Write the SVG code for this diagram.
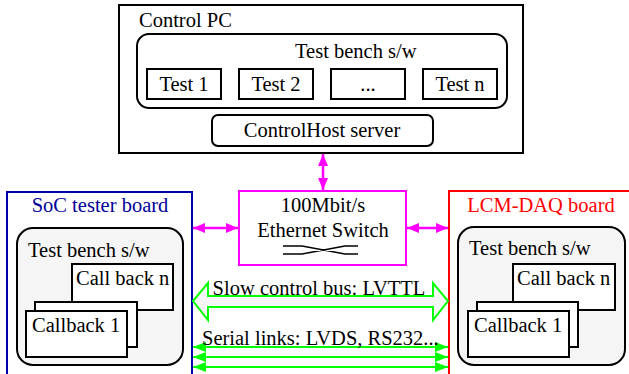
<svg xmlns="http://www.w3.org/2000/svg" width="629" height="374" viewBox="0 0 629 374">
<defs>
<style>
text{font-family:"Liberation Serif","Times New Roman",serif;font-size:20.5px;fill:#000}
.box{fill:#fff;stroke:#000;stroke-width:2}
.rbox{fill:#fff;stroke:#000;stroke-width:2}
.gbox{fill:#f5f5f5;stroke:#000;stroke-width:2}
.mag{stroke:#ff00ff;stroke-width:2.5;fill:none}
.grn{stroke:#00ff00;stroke-width:2;fill:none}
.mid{text-anchor:middle}
</style>
<marker id="mh" viewBox="0 0 12 10" refX="12" refY="5" markerWidth="12" markerHeight="10" markerUnits="userSpaceOnUse" orient="auto-start-reverse"><path d="M0,0 L12,5 L0,10 Z" fill="#ff00ff"/></marker>
<marker id="gh" viewBox="0 0 13 10" refX="13" refY="5" markerWidth="13" markerHeight="10" markerUnits="userSpaceOnUse" orient="auto-start-reverse"><path d="M0,0 L13,5 L0,10 Z" fill="#00ff00"/></marker>
</defs>
<rect width="629" height="374" fill="#fff"/>

<g id="control-pc">
<rect x="119" y="5" width="404" height="148" class="box"/>
<text x="139" y="27">Control PC</text>
<rect x="137" y="34" width="370" height="74" rx="12" class="rbox"/>
<text x="295" y="58">Test bench s/w</text>
<g id="test1"><rect x="147" y="69" width="74" height="30" class="box"/><text x="184" y="91" class="mid">Test 1</text></g>
<g id="test2"><rect x="239" y="69" width="74" height="30" class="box"/><text x="276" y="91" class="mid">Test 2</text></g>
<g id="test-dots"><rect x="331" y="69" width="74" height="30" class="box"/><text x="368" y="91" class="mid">...</text></g>
<g id="testn"><rect x="423" y="69" width="74" height="30" class="box"/><text x="460" y="91" class="mid">Test n</text></g>
<g id="controlhost"><rect x="212" y="115" width="221" height="31" rx="6" class="rbox"/><text x="322" y="137" class="mid">ControlHost server</text></g>
</g>

<g id="switch">
<rect x="239" y="191" width="167" height="74" fill="#fff" stroke="#ff00ff" stroke-width="2"/>
<text x="323" y="212" class="mid">100Mbit/s</text>
<text x="323" y="237" class="mid">Ethernet Switch</text>
<path d="M283,246 H302 L345,254 H358 M283,254 H302 L345,246 H358" fill="none" stroke="#000" stroke-width="1.6"/>
</g>

<g id="soc-board">
<rect x="7" y="192" width="185" height="190" fill="#fff" stroke="#0000aa" stroke-width="2"/>
<text x="100" y="212" class="mid" style="fill:#000099">SoC tester board</text>
<rect x="17" y="228" width="166" height="137" rx="16" class="gbox"/>
<text x="28" y="257">Test bench s/w</text>
<rect x="72" y="264" width="101" height="46" class="box"/>
<text x="76" y="285">Call back n</text>
<rect x="35" y="302" width="102" height="45" class="box"/>
<rect x="26" y="311" width="101" height="46" class="box"/>
<text x="32" y="332">Callback 1</text>
</g>

<g id="lcm-board">
<rect x="449" y="191" width="190" height="190" fill="#fff" stroke="#ff0000" stroke-width="2"/>
<text x="541" y="212" class="mid" style="fill:#ff0000">LCM-DAQ board</text>
<rect x="458" y="227" width="167" height="138" rx="16" class="gbox"/>
<text x="469" y="255">Test bench s/w</text>
<rect x="513" y="264" width="102" height="46" class="box"/>
<text x="517" y="285">Call back n</text>
<rect x="477" y="302" width="101" height="45" class="box"/>
<rect x="468" y="311" width="101" height="46" class="box"/>
<text x="474" y="332">Callback 1</text>
</g>

<g id="connectors">
<line x1="323" y1="154" x2="323" y2="190" class="mag" marker-start="url(#mh)" marker-end="url(#mh)"/>
<line x1="193" y1="228" x2="238" y2="228" class="mag" marker-start="url(#mh)" marker-end="url(#mh)"/>
<line x1="407" y1="228" x2="448" y2="228" class="mag" marker-start="url(#mh)" marker-end="url(#mh)"/>
<polygon points="193,301 208,283 208,296 433,296 433,283 448,301 433,320 433,307 208,307 208,320" fill="#f5f5f5" stroke="#00ff00" stroke-width="2"/>
<line x1="193" y1="347" x2="448" y2="347" class="grn" marker-start="url(#gh)" marker-end="url(#gh)"/>
<line x1="193" y1="357" x2="448" y2="357" class="grn" marker-start="url(#gh)" marker-end="url(#gh)"/>
<line x1="193" y1="367" x2="448" y2="367" class="grn" marker-start="url(#gh)" marker-end="url(#gh)"/>
</g>
<text x="319" y="295" class="mid">Slow control bus: LVTTL</text>
<text x="202" y="345">Serial links: LVDS, RS232...</text>
</svg>
